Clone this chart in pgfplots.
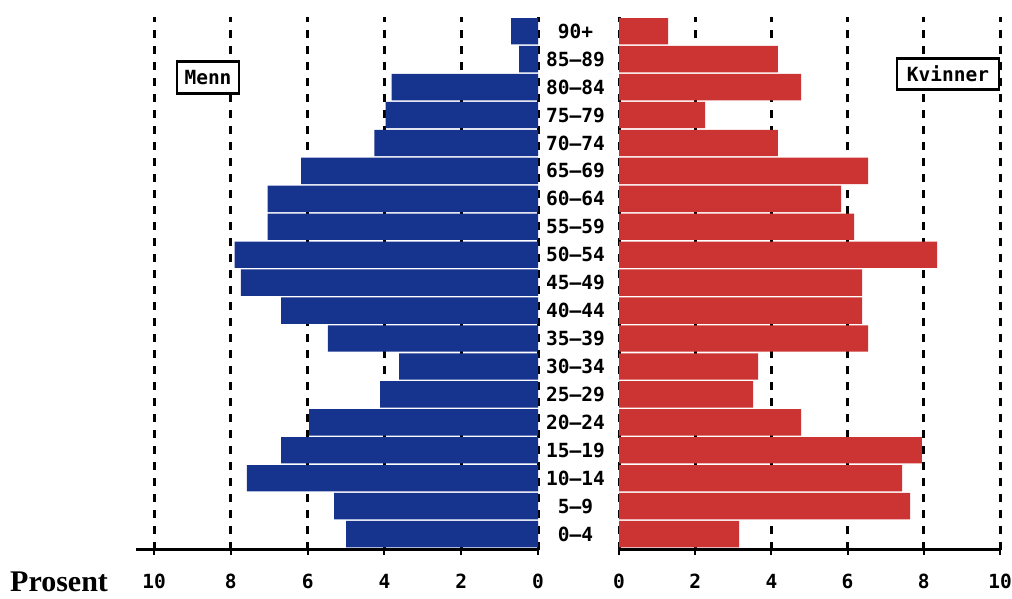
\documentclass[border=0pt]{standalone}
\usepackage{pgfplots}
\pgfplotsset{compat=1.18}
\usepackage{pgfplotstable}
\usepackage{fontspec}
\setmainfont{Liberation Serif}
\newfontfamily\pix{DejaVu Sans Mono}
\definecolor{menn}{RGB}{22,51,142}
\definecolor{kvinner}{RGB}{204,51,51}

% idx 0 = 0-4 ... idx 18 = 90+
\pgfplotstableread{
idx menn kvinner
0   5.00 3.15
1   5.31 7.64
2   7.58 7.43
3   6.69 7.95
4   5.96 4.78
5   4.11 3.52
6   3.62 3.65
7   5.47 6.54
8   6.69 6.38
9   7.74 6.38
10  7.90 8.35
11  7.04 6.17
12  7.04 5.83
13  6.17 6.54
14  4.26 4.17
15  3.97 2.26
16  3.81 4.78
17  0.49 4.17
18  0.70 1.29
}\pyramid

\pgfplotsset{
  pyr/.style={
    scale only axis,
    height=533pt,
    ymin=-0.57, ymax=18.51,
    xmin=0,
    xtick={0,2,...,10},
    xmajorgrids,
    grid style={black, line width=3pt, dash pattern=on 8pt off 8pt},
    axis x line=bottom,
    x axis line style={-, line width=3pt},
    tick style={black, line width=2pt},
    tick align=outside,
    major tick length=5pt,
    ticklabel style={font=\pix\bfseries\fontsize{19.5}{20}\selectfont},
    /pgf/number format/assume math mode=true,
    xticklabel style={anchor=center, yshift=-26pt},
  },
  bars/.style={xbar, bar width=26.4pt, bar shift=0pt, draw=none},
}

\begin{document}
\begin{tikzpicture}
\useasboundingbox (0,0) rectangle (1012pt,599pt);

\begin{axis}[pyr,
  at={(136pt,49pt)}, anchor=south west,
  width=402pt, xmax=10.47,
  x dir=reverse,
  axis y line=none,
]
\addplot[bars, fill=menn] table[x=menn, y=idx]{\pyramid};
\end{axis}

\begin{axis}[pyr,
  at={(619pt,49pt)}, anchor=south west,
  width=381pt, xmax=10,
  axis y line=left,
  y axis line style={-, draw=none},
  ytick={0,...,18},
  ytick style={draw=none},
  yticklabels={0–4,5–9,10–14,15–19,20–24,25–29,30–34,35–39,40–44,45–49,50–54,55–59,60–64,65–69,70–74,75–79,80–84,85–89,90+},
  yticklabel style={anchor=center, xshift=-41pt},
]
\addplot[bars, fill=kvinner] table[x=kvinner, y=idx]{\pyramid};
\end{axis}

\node[draw, line width=2.8pt, fill=white, inner sep=0pt, minimum width=62pt, minimum height=32pt,
  font=\pix\bfseries\fontsize{19.5}{20}\selectfont] at (208pt,521.5pt) {Menn};
\node[draw, line width=2.8pt, fill=white, inner sep=0pt, minimum width=102pt, minimum height=31pt,
  font=\pix\bfseries\fontsize{19.5}{20}\selectfont] at (948pt,525pt) {Kvinner};
\node[anchor=base west, inner sep=0pt, font=\bfseries\fontsize{30}{30}\selectfont] at (10pt,7pt) {Prosent};
\end{tikzpicture}
\end{document}
